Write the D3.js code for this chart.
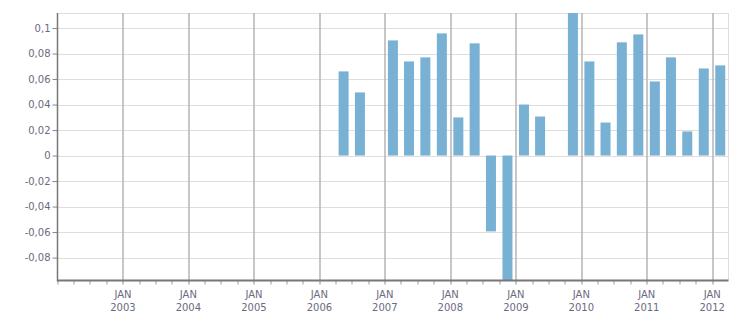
<!DOCTYPE html>
<html>
<head>
<meta charset="utf-8">
<script src="https://cdn.jsdelivr.net/npm/d3@7"></script>
<style>
  body { margin: 0; background: #fff; }
  text { font-family: "DejaVu Sans", Verdana, sans-serif; font-size: 10px; fill: #6c6a80; }
</style>
</head>
<body>
<div id="chart"></div>
<script>
// quarters (start month) and values, null = no bar
const quarters = [
    '2006-04', '2006-07', '2006-10',
    '2007-01', '2007-04', '2007-07', '2007-10',
    '2008-01', '2008-04', '2008-07', '2008-10',
    '2009-01', '2009-04', '2009-07', '2009-10',
    '2010-01', '2010-04', '2010-07', '2010-10',
    '2011-01', '2011-04', '2011-07', '2011-10',
    '2012-01'
];
const values = [
    0.066, 0.0495, null,
    0.0903, 0.0738, 0.077, 0.0958,
    0.0299, 0.088, -0.0595, -0.098,
    0.040, 0.0306, null, 0.1118,
    0.0738, 0.0259, 0.0888, 0.095,
    0.0581, 0.077, 0.0189, 0.0683,
    0.0707
];
const yTicks = [0.1, 0.08, 0.06, 0.04, 0.02, 0, -0.02, -0.04, -0.06, -0.08];
const yearTicks = ['2003', '2004', '2005', '2006', '2007', '2008', '2009', '2010', '2011', '2012'];

const width = 751, height = 313;
const margin = { top: 13, right: 22.5, bottom: 32.5, left: 57.5 };
const innerW = width - margin.left - margin.right;
const innerH = height - margin.top - margin.bottom;

const parse = d3.timeParse('%Y-%m');
const data = quarters.map((q, i) => ({ date: parse(q), value: values[i] }))
    .filter(d => d.value !== null);

const locale = d3.formatLocale({ decimal: ',', thousands: '.', grouping: [3], currency: ['', ''], minus: '-' });
const fmt = locale.format('~f');

const svg = d3.select('#chart').append('svg')
    .attr('width', width)
    .attr('height', height);

const g = svg.append('g').attr('transform', `translate(${margin.left},${margin.top})`);

const x = d3.scaleTime()
    .domain([new Date(2002, 0, 1), new Date(2012, 3, 1)])
    .range([0, innerW]);

const y = d3.scaleLinear()
    .domain([d3.min(values), d3.max(values)])
    .range([innerH, 0]);

// horizontal grid
g.append('g')
    .selectAll('line')
    .data(yTicks)
    .join('line')
    .attr('x1', 0)
    .attr('x2', innerW)
    .attr('y1', d => Math.round(y(d)) + 0.5)
    .attr('y2', d => Math.round(y(d)) + 0.5)
    .attr('stroke', '#dedede');

// frame top / right
g.append('line').attr('x1', 0).attr('x2', innerW).attr('y1', 0.5).attr('y2', 0.5).attr('stroke', '#dedede');
g.append('line').attr('x1', innerW).attr('x2', innerW).attr('y1', 0).attr('y2', innerH).attr('stroke', '#dedede');

// year grid lines
const years = yearTicks.map(s => new Date(+s, 0, 1));
g.append('g')
    .selectAll('line')
    .data(years)
    .join('line')
    .attr('x1', d => Math.round(x(d)) + 0.5)
    .attr('x2', d => Math.round(x(d)) + 0.5)
    .attr('y1', 0)
    .attr('y2', innerH + 4)
    .attr('stroke', '#b4b4b4')
    .attr('stroke-width', 1.5);

// bars
const quarterW = x(new Date(2007, 3, 1)) - x(new Date(2007, 0, 1));
const barW = 10;
g.append('g')
    .selectAll('rect')
    .data(data)
    .join('rect')
    .attr('x', d => x(d.date) + quarterW / 2 - barW / 2)
    .attr('width', barW)
    .attr('y', d => y(Math.max(0, d.value)))
    .attr('height', d => Math.abs(y(d.value) - y(0)))
    .attr('fill', '#78b1d4');

// quarter minor ticks on x axis
const minor = d3.timeMonth.every(3).range(x.domain()[0], x.domain()[1])
    .filter(d => d.getMonth() !== 0 || d.getFullYear() < 2003);
g.append('g')
    .selectAll('line')
    .data(minor)
    .join('line')
    .attr('x1', d => Math.round(x(d)) + 0.5)
    .attr('x2', d => Math.round(x(d)) + 0.5)
    .attr('y1', innerH)
    .attr('y2', innerH + 4)
    .attr('stroke', '#999');

// y axis
const yAxis = g.append('g')
    .call(d3.axisLeft(y).tickValues(yTicks).tickFormat(fmt).tickSize(5).tickPadding(2));
yAxis.select('.domain').remove();
yAxis.selectAll('.tick line').attr('stroke', '#888');
yAxis.selectAll('text').attr('fill', '#6c6a80');

// x labels
const xl = g.append('g')
    .selectAll('text')
    .data(years)
    .join('text')
    .attr('x', d => x(d))
    .attr('text-anchor', 'middle');
xl.append('tspan').attr('x', d => x(d)).attr('y', innerH + 17).text('JAN');
xl.append('tspan').attr('x', d => x(d)).attr('y', innerH + 30).text(d => d3.timeFormat('%Y')(d));

// axis lines
g.append('line').attr('x1', 0).attr('x2', 0).attr('y1', 0).attr('y2', innerH + 1)
    .attr('stroke', '#777').attr('stroke-width', 1.5);
g.append('line').attr('x1', 0).attr('x2', innerW).attr('y1', innerH).attr('y2', innerH)
    .attr('stroke', '#777').attr('stroke-width', 2);
</script>
</body>
</html>
